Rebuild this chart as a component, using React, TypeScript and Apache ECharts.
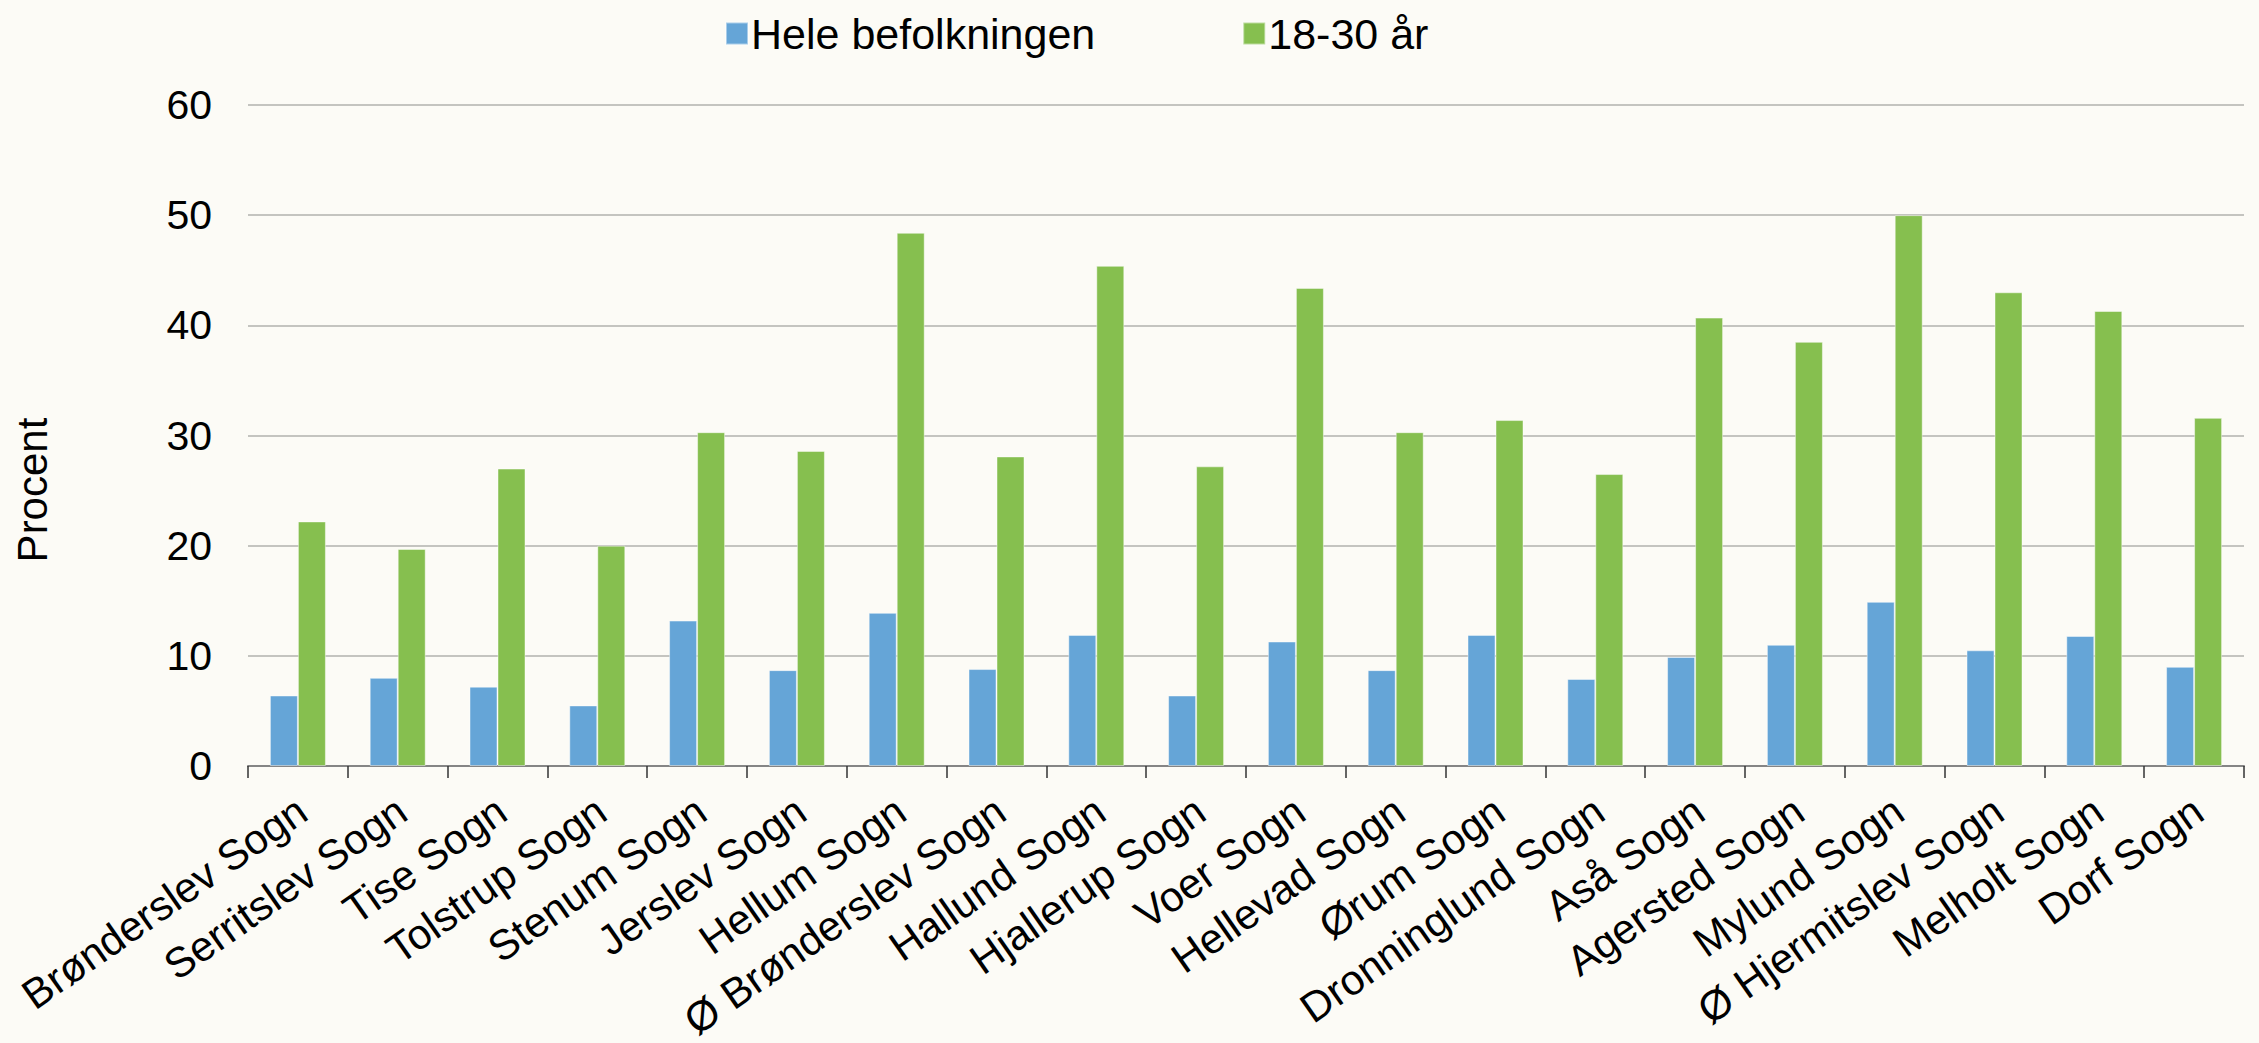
import React, { useEffect, useRef } from "react";
import * as echarts from "echarts";

const categories = [
  "Brønderslev Sogn",
  "Serritslev Sogn",
  "Tise Sogn",
  "Tolstrup Sogn",
  "Stenum Sogn",
  "Jerslev Sogn",
  "Hellum Sogn",
  "Ø Brønderslev Sogn",
  "Hallund Sogn",
  "Hjallerup Sogn",
  "Voer Sogn",
  "Hellevad Sogn",
  "Ørum Sogn",
  "Dronninglund Sogn",
  "Aså Sogn",
  "Agersted Sogn",
  "Mylund Sogn",
  "Ø Hjermitslev Sogn",
  "Melholt Sogn",
  "Dorf Sogn",
];

const seriesNames = ["Hele befolkningen", "18-30 år"];

const heleBefolkningen = [
  6.4, 8.0, 7.2, 5.5, 13.2, 8.7, 13.9, 8.8, 11.9, 6.4, 11.3, 8.7, 11.9, 7.9,
  9.9, 11.0, 14.9, 10.5, 11.8, 9.0,
];

const aar18til30 = [
  22.2, 19.7, 27.0, 20.0, 30.3, 28.6, 48.4, 28.1, 45.4, 27.2, 43.4, 30.3, 31.4,
  26.5, 40.7, 38.5, 50.0, 43.0, 41.3, 31.6,
];

const yMin = 0;
const yMax = 60;
const yInterval = 10;
const yAxisTitle = "Procent";

const FONT = '"Liberation Sans", Arial, Helvetica, sans-serif';

export default function App() {
  const ref = useRef<HTMLDivElement>(null);

  useEffect(() => {
    if (!ref.current) return;
    const chart = echarts.init(ref.current, undefined, { renderer: "svg" });
    chart.setOption({
      animation: false,
      backgroundColor: "#fcfbf6",
      textStyle: { fontFamily: FONT, color: "#000" },
      legend: {
        left: 720,
        top: 7,
        itemWidth: 22,
        itemHeight: 22,
        itemGap: 147,
        icon: "rect",
        textStyle: { fontSize: 43, color: "#000", fontFamily: FONT, padding: [0, 0, 0, -2] },
        data: seriesNames,
      },
      grid: {
        left: 248,
        right: 15,
        top: 105,
        bottom: 277,
        containLabel: false,
        outerBoundsMode: "none",
      },
      xAxis: {
        type: "category",
        data: categories,
        axisLine: { show: true, lineStyle: { color: "#858585", width: 2 } },
        axisTick: { show: true, length: 12, lineStyle: { color: "#333", width: 1.5 } },
        axisLabel: {
          interval: 0,
          rotate: 35,
          fontSize: 42,
          color: "#000",
          fontFamily: FONT,
          margin: 43,
          padding: [7, -5, 0, 0],
        },
        splitLine: { show: false },
      },
      yAxis: {
        type: "value",
        min: yMin,
        max: yMax,
        interval: yInterval,
        axisLine: { show: false },
        axisTick: { show: false },
        axisLabel: { fontSize: 41, color: "#000", fontFamily: FONT, margin: 36 },
        splitLine: { show: true, lineStyle: { color: "#c4c4c0", width: 2 } },
      },
      graphic: [
        {
          type: "text",
          x: 32,
          y: 490,
          rotation: Math.PI / 2,
          style: {
            text: yAxisTitle,
            fontSize: 42,
            fontFamily: FONT,
            fill: "#000",
            textAlign: "center",
            textVerticalAlign: "middle",
          },
        },
      ],
      series: [
        {
          name: seriesNames[0],
          type: "bar",
          data: heleBefolkningen,
          barWidth: 28,
          barGap: "0%",
          itemStyle: { color: "#65a5d7", borderColor: "rgba(255,255,255,0.45)", borderWidth: 1 },
        },
        {
          name: seriesNames[1],
          type: "bar",
          data: aar18til30,
          barWidth: 28,
          barGap: "0%",
          itemStyle: { color: "#86bf4f", borderColor: "rgba(255,255,255,0.45)", borderWidth: 1 },
        },
      ],
    });
    return () => chart.dispose();
  }, []);

  return (
    <div
      ref={ref}
      style={{ position: "absolute", left: 0, top: 0, width: 2259, height: 1043 }}
    />
  );
}
